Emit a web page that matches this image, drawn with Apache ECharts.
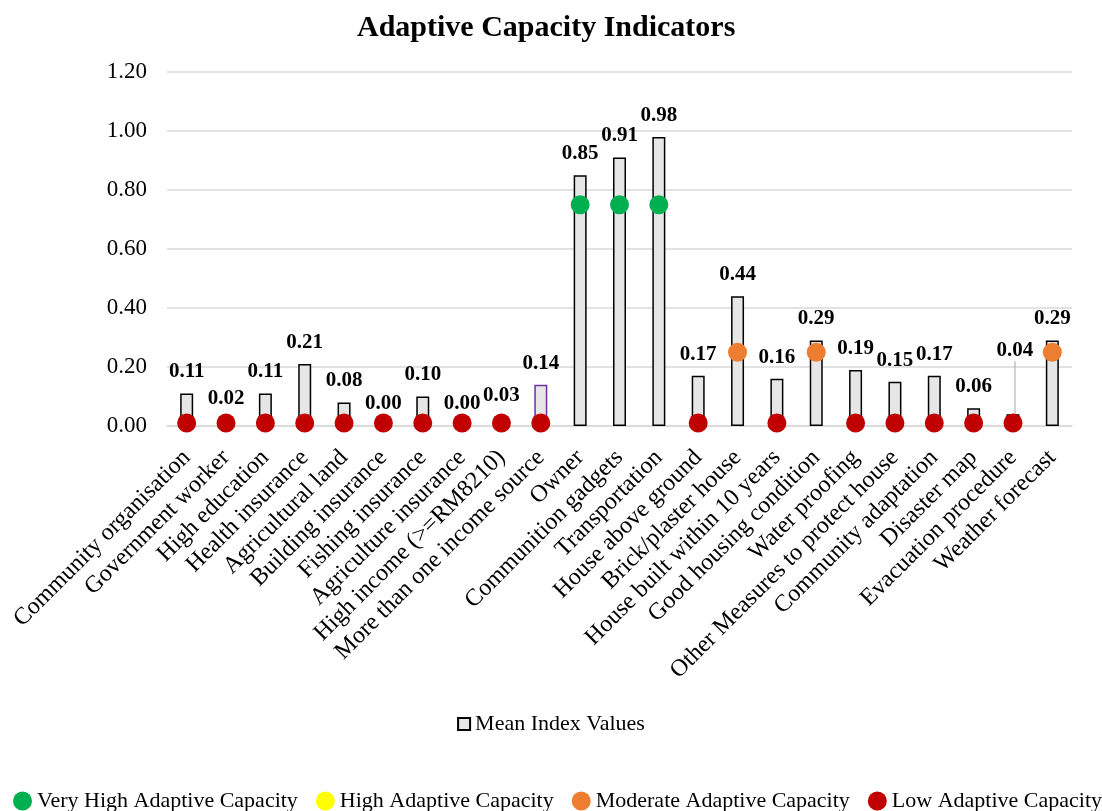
<!DOCTYPE html>
<html>
<head>
<meta charset="utf-8">
<script src="https://cdn.jsdelivr.net/npm/echarts@6/dist/echarts.min.js"></script>
<style>
html,body{margin:0;padding:0;background:#fff;}
#chart{width:1102px;height:811px;}
</style>
</head>
<body>
<div id="chart"></div>
<script>
const categories = ["Community organisation","Government worker","High education","Health insurance","Agricultural land","Building insurance","Fishing insurance","Agriculture insurance","High income (>=RM8210)","More than one income source","Owner","Communition gadgets","Transportation","House above ground","Brick/plaster house","House built within 10 years","Good housing condition","Water proofing","Other Measures to protect house","Community adaptation","Disaster map","Evacuation procedure","Weather forecast"];
const meanValues = [0.11,0.02,0.11,0.21,0.08,0.00,0.10,0.00,0.03,0.14,0.85,0.91,0.98,0.17,0.44,0.16,0.29,0.19,0.15,0.17,0.06,0.04,0.29];
// capacity level per category: V = very high, H = high, M = moderate, L = low
const capacityLevel = ["L","L","L","L","L","L","L","L","L","L","V","V","V","L","M","L","M","L","L","L","L","L","M"];
const levelMarkerValue = {V:0.75, H:0.5, M:0.25, L:0.01};
const yTicks = [0,0.2,0.4,0.6,0.8,1.0,1.2];

const serif = "'Liberation Serif','Times New Roman',serif";
function levelData(lv){
  return categories.map((c,i)=> capacityLevel[i]===lv ? levelMarkerValue[lv] : null);
}
const chart = echarts.init(document.getElementById('chart'));
const scatterBase = {type:'scatter', symbol:'circle', symbolSize:19, z:5};
chart.setOption({
  animation:false,
  title:{text:'Adaptive Capacity Indicators', left:352, top:8,
    textStyle:{fontFamily:serif, fontSize:30, fontWeight:'bold', color:'#000'}},
  grid:{left:167, right:30, top:72, bottom:385},
  legend:[
    {data:[{name:'Mean Index Values', icon:'rect'}], left:'center', top:708,
     itemWidth:12, itemHeight:12, itemGap:10,
     textStyle:{fontFamily:serif, fontSize:22, color:'#000'}},
    {data:['Very High Adaptive Capacity','High Adaptive Capacity','Moderate Adaptive Capacity','Low Adaptive Capacity'],
     left:13, top:790, width:1095, padding:0, icon:'circle', itemWidth:19, itemHeight:19, itemGap:18,
     textStyle:{fontFamily:serif, fontSize:22, color:'#000'}}
  ],
  xAxis:{type:'category', data:categories, boundaryGap:true,
    axisLine:{lineStyle:{color:'#D9D9D9', width:1.5}}, axisTick:{show:false},
    axisLabel:{interval:0, rotate:45, fontFamily:serif, fontSize:24, color:'#000', margin:28}},
  yAxis:{type:'value', min:0, max:1.2, interval:0.2,
    axisLine:{show:false}, axisTick:{show:false},
    splitLine:{lineStyle:{color:'#D9D9D9', width:1.5}},
    axisLabel:{fontFamily:serif, fontSize:23, color:'#000', margin:20,
      formatter:v=>v.toFixed(2)}},
  series:[
    {name:'Mean Index Values', type:'bar', barWidth:13,
     data: meanValues.map((v,i)=>{
       const d={value:v};
       if(i===9) d.itemStyle={borderColor:'#7030A0'};
       if(i===21) d.labelLine={show:true, lineStyle:{color:'#A6A6A6', width:1}};
       return d;
     }),
     itemStyle:{color:'#E7E6E6', borderColor:'#000', borderWidth:1.5},
     label:{show:true, position:'top', distance:11, fontFamily:serif, fontSize:21, fontWeight:'bold', color:'#000',
       formatter:p=>p.value.toFixed(2)},
     labelLayout:function(p){ if(p.dataIndex===21) return {dy:-42, dx:2}; },
     labelLine:{show:false}
    },
    Object.assign({name:'Very High Adaptive Capacity', data:levelData('V'), itemStyle:{color:'#00B050', opacity:1}}, scatterBase),
    Object.assign({name:'High Adaptive Capacity', data:levelData('H'), itemStyle:{color:'#FFFF00', opacity:1}}, scatterBase),
    Object.assign({name:'Moderate Adaptive Capacity', data:levelData('M'), itemStyle:{color:'#ED7D31', opacity:1}}, scatterBase),
    Object.assign({name:'Low Adaptive Capacity', data:levelData('L'), itemStyle:{color:'#C00000', opacity:1}}, scatterBase)
  ]
});
</script>
</body>
</html>
